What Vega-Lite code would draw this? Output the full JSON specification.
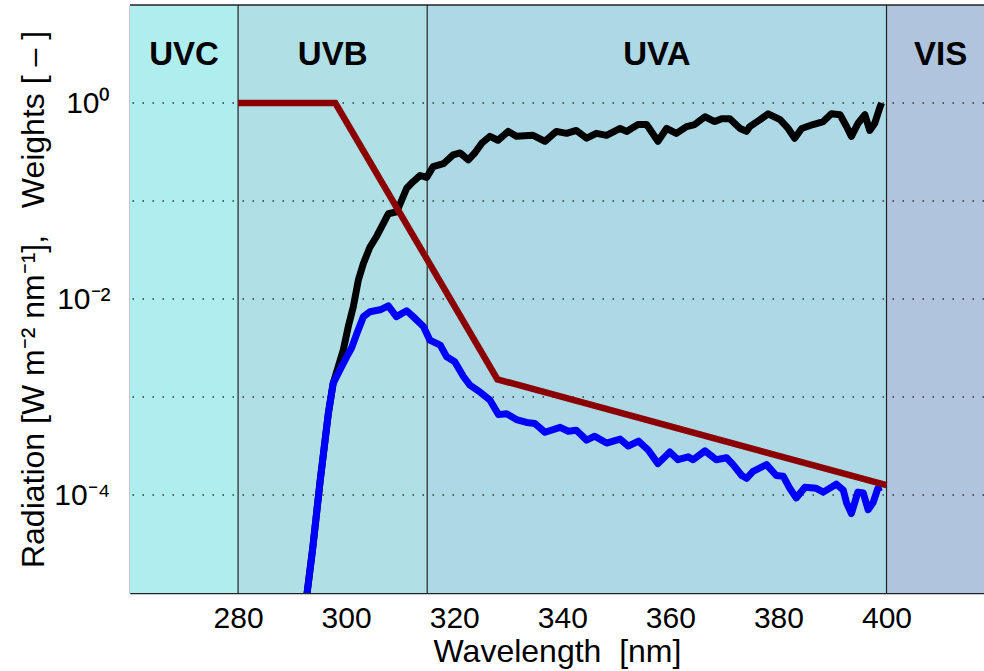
{
  "$schema": "https://vega.github.io/schema/vega-lite/v6.json",
  "autosize": "none",
  "width": 854,
  "height": 588,
  "padding": {"left": 130, "top": 5, "right": 0, "bottom": 78},
  "background": "white",
  "view": {"stroke": null},
  "config": {
    "font": "Liberation Sans",
    "axis": {"labelFont": "Liberation Sans", "titleFont": "Liberation Sans", "labelColor": "black", "titleColor": "black", "domainColor": "#222", "domainWidth": 1.5, "grid": false, "ticks": false, "labelFontSize": 30, "titleFontSize": 32, "titleFontWeight": "normal"}
  },
  "datasets": {
    "bands": [
      {"band": "UVC", "start": 260, "end": 280, "mid": 270},
      {"band": "UVB", "start": 280, "end": 315, "mid": 297.5},
      {"band": "UVA", "start": 315, "end": 400, "mid": 357.5},
      {"band": "VIS", "start": 400, "end": 420, "mid": 410}
    ],
    "bounds": [{"wl": 280}, {"wl": 315}, {"wl": 400}],
    "decades": [{"v": 1}, {"v": 0.1}, {"v": 0.01}, {"v": 0.001}, {"v": 0.0001}],
    "irr": [
      {"wl": 292.5, "v": 7.59e-6}, {"wl": 293.8, "v": 2.82e-5}, {"wl": 295.2, "v": 1.41e-4}, {"wl": 296.7, "v": 6.76e-4},
      {"wl": 297.6, "v": 1.38e-3}, {"wl": 299.47, "v": 3.02e-3}, {"wl": 300.4, "v": 5.25e-3}, {"wl": 301.32, "v": 8.32e-3},
      {"wl": 302.25, "v": 1.55e-2}, {"wl": 303.17, "v": 2.29e-2}, {"wl": 304.41, "v": 3.39e-2}, {"wl": 305.65, "v": 4.37e-2},
      {"wl": 306.87, "v": 5.89e-2}, {"wl": 307.8, "v": 7.41e-2}, {"wl": 309.35, "v": 7.76e-2}, {"wl": 310.28, "v": 0.102},
      {"wl": 311.2, "v": 0.135}, {"wl": 312.42, "v": 0.158}, {"wl": 313.7, "v": 0.182}, {"wl": 314.9, "v": 0.174},
      {"wl": 316.1, "v": 0.224}, {"wl": 318.0, "v": 0.24}, {"wl": 319.8, "v": 0.295}, {"wl": 321.1, "v": 0.309},
      {"wl": 322.6, "v": 0.263}, {"wl": 323.8, "v": 0.309}, {"wl": 325.1, "v": 0.389}, {"wl": 326.6, "v": 0.457},
      {"wl": 328.1, "v": 0.417}, {"wl": 330.0, "v": 0.513}, {"wl": 331.5, "v": 0.457}, {"wl": 334.6, "v": 0.468},
      {"wl": 336.8, "v": 0.407}, {"wl": 338.9, "v": 0.513}, {"wl": 340.8, "v": 0.49}, {"wl": 342.6, "v": 0.525},
      {"wl": 344.5, "v": 0.437}, {"wl": 346.3, "v": 0.49}, {"wl": 348.2, "v": 0.468}, {"wl": 350.7, "v": 0.55},
      {"wl": 351.9, "v": 0.513}, {"wl": 354.0, "v": 0.603}, {"wl": 355.6, "v": 0.603}, {"wl": 357.7, "v": 0.407},
      {"wl": 359.3, "v": 0.55}, {"wl": 361.1, "v": 0.49}, {"wl": 363.0, "v": 0.575}, {"wl": 364.5, "v": 0.603},
      {"wl": 366.4, "v": 0.724}, {"wl": 368.2, "v": 0.646}, {"wl": 369.5, "v": 0.692}, {"wl": 371.0, "v": 0.692},
      {"wl": 372.9, "v": 0.55}, {"wl": 374.1, "v": 0.513}, {"wl": 374.7, "v": 0.575}, {"wl": 376.6, "v": 0.676},
      {"wl": 378.1, "v": 0.776}, {"wl": 380.3, "v": 0.676}, {"wl": 381.8, "v": 0.55}, {"wl": 383.0, "v": 0.437},
      {"wl": 384.3, "v": 0.55}, {"wl": 386.4, "v": 0.603}, {"wl": 388.3, "v": 0.646}, {"wl": 389.8, "v": 0.776},
      {"wl": 391.4, "v": 0.759}, {"wl": 392.6, "v": 0.575}, {"wl": 393.5, "v": 0.457}, {"wl": 394.7, "v": 0.617},
      {"wl": 396.0, "v": 0.759}, {"wl": 396.9, "v": 0.525}, {"wl": 397.8, "v": 0.617}, {"wl": 398.8, "v": 0.912},
      {"wl": 399.1, "v": 1.0}
    ],
    "ery": [
      {"wl": 292.5, "v": 7.59e-6}, {"wl": 293.8, "v": 2.82e-5}, {"wl": 295.2, "v": 1.41e-4}, {"wl": 296.7, "v": 6.76e-4},
      {"wl": 297.6, "v": 1.38e-3}, {"wl": 298.9, "v": 1.91e-3}, {"wl": 300.1, "v": 2.57e-3}, {"wl": 301.0, "v": 3.16e-3},
      {"wl": 302.0, "v": 4.47e-3}, {"wl": 303.2, "v": 6.61e-3}, {"wl": 304.4, "v": 7.41e-3}, {"wl": 306.3, "v": 7.76e-3},
      {"wl": 307.8, "v": 8.51e-3}, {"wl": 309.3, "v": 6.61e-3}, {"wl": 311.2, "v": 7.59e-3}, {"wl": 312.4, "v": 6.61e-3},
      {"wl": 314.3, "v": 5.25e-3}, {"wl": 315.5, "v": 3.8e-3}, {"wl": 317.4, "v": 3.39e-3}, {"wl": 318.6, "v": 2.57e-3},
      {"wl": 320.1, "v": 2.29e-3}, {"wl": 321.7, "v": 1.62e-3}, {"wl": 322.9, "v": 1.32e-3}, {"wl": 324.8, "v": 1.12e-3},
      {"wl": 326.6, "v": 9.33e-4}, {"wl": 328.2, "v": 6.61e-4}, {"wl": 329.7, "v": 6.76e-4}, {"wl": 331.5, "v": 5.89e-4},
      {"wl": 333.4, "v": 5.5e-4}, {"wl": 334.9, "v": 5.37e-4}, {"wl": 336.8, "v": 4.37e-4}, {"wl": 339.6, "v": 4.9e-4},
      {"wl": 341.1, "v": 4.47e-4}, {"wl": 342.6, "v": 4.57e-4}, {"wl": 344.5, "v": 3.63e-4}, {"wl": 346.0, "v": 3.98e-4},
      {"wl": 348.2, "v": 3.39e-4}, {"wl": 350.7, "v": 3.72e-4}, {"wl": 352.2, "v": 3.16e-4}, {"wl": 354.1, "v": 3.55e-4},
      {"wl": 355.9, "v": 2.88e-4}, {"wl": 357.7, "v": 2.09e-4}, {"wl": 359.9, "v": 2.75e-4}, {"wl": 361.4, "v": 2.29e-4},
      {"wl": 363.3, "v": 2.45e-4}, {"wl": 364.2, "v": 2.29e-4}, {"wl": 366.4, "v": 2.82e-4}, {"wl": 368.5, "v": 2.29e-4},
      {"wl": 370.4, "v": 2.4e-4}, {"wl": 371.6, "v": 2.04e-4}, {"wl": 373.2, "v": 1.58e-4}, {"wl": 374.1, "v": 1.48e-4},
      {"wl": 375.3, "v": 1.74e-4}, {"wl": 377.8, "v": 2.04e-4}, {"wl": 379.6, "v": 1.58e-4}, {"wl": 380.9, "v": 1.55e-4},
      {"wl": 382.1, "v": 1.17e-4}, {"wl": 383.3, "v": 9.33e-5}, {"wl": 384.9, "v": 1.2e-4}, {"wl": 387.0, "v": 1.17e-4},
      {"wl": 388.3, "v": 1.07e-4}, {"wl": 390.7, "v": 1.29e-4}, {"wl": 392.0, "v": 1.12e-4}, {"wl": 392.6, "v": 8.32e-5},
      {"wl": 393.5, "v": 6.46e-5}, {"wl": 394.7, "v": 1.07e-4}, {"wl": 395.7, "v": 1.05e-4}, {"wl": 396.6, "v": 7.08e-5},
      {"wl": 397.5, "v": 8.32e-5}, {"wl": 398.4, "v": 1.17e-4}, {"wl": 399.1, "v": 1.2e-4}
    ],
    "weights": [
      {"wl": 280, "v": 1}, {"wl": 298, "v": 1}, {"wl": 328, "v": 1.514e-3}, {"wl": 400, "v": 1.259e-4}
    ]
  },
  "layer": [
    {
      "data": {"name": "bands"},
      "mark": {"type": "rect", "clip": true},
      "encoding": {
        "x": {"field": "start", "type": "quantitative", "scale": {"domain": [260, 418.04], "nice": false, "zero": false}, "title": "Wavelength\u00a0\u00a0[nm]",
              "axis": {"values": [280, 300, 320, 340, 360, 380, 400], "labelPadding": 10, "titlePadding": 3, "labelFlush": false}},
        "x2": {"field": "end"},
        "color": {"field": "band", "type": "nominal", "legend": null,
                  "scale": {"domain": ["UVC", "UVB", "UVA", "VIS"], "range": ["#afeeee", "#b0e0e6", "#add8e6", "#b0c4de"]}}
      }
    },
    {
      "data": {"name": "decades"},
      "mark": {"type": "rule", "color": "#333", "strokeWidth": 1.3, "strokeDash": [1.5, 8.5]},
      "encoding": {
        "y": {"field": "v", "type": "quantitative", "scale": {"type": "log", "domain": [0.00001, 10], "nice": false}, "title": "Radiation [W m⁻² nm⁻¹],\u00a0\u00a0\u00a0Weights [ – ]",
              "axis": {"values": [1, 0.01, 0.0001], "labelPadding": 20, "titlePadding": 3,
                       "labelExpr": "round(log(datum.value)/LN10) == 0 ? '10⁰' : round(log(datum.value)/LN10) == -2 ? '10⁻²' : '10⁻⁴'"}}
      }
    },
    {
      "data": {"name": "bounds"},
      "mark": {"type": "rule", "color": "#222", "strokeWidth": 1.2},
      "encoding": {
        "x": {"field": "wl", "type": "quantitative", "title": "Wavelength\u00a0\u00a0[nm]"}
      }
    },
    {
      "data": {"name": "bands"},
      "mark": {"type": "text", "fontSize": 33, "fontWeight": "bold", "color": "black", "baseline": "middle", "align": "center"},
      "encoding": {
        "x": {"field": "mid", "type": "quantitative", "title": "Wavelength\u00a0\u00a0[nm]"},
        "y": {"datum": 3.1, "type": "quantitative", "title": "Radiation [W m⁻² nm⁻¹],\u00a0\u00a0\u00a0Weights [ – ]"},
        "text": {"field": "band"}
      }
    },
    {
      "data": {"name": "irr"},
      "mark": {"type": "line", "color": "black", "strokeWidth": 7, "clip": true, "strokeJoin": "round"},
      "encoding": {
        "x": {"field": "wl", "type": "quantitative", "title": "Wavelength\u00a0\u00a0[nm]"},
        "y": {"field": "v", "type": "quantitative", "title": "Radiation [W m⁻² nm⁻¹],\u00a0\u00a0\u00a0Weights [ – ]"}
      }
    },
    {
      "data": {"name": "ery"},
      "mark": {"type": "line", "color": "#0000ff", "strokeWidth": 7, "clip": true, "strokeJoin": "round"},
      "encoding": {
        "x": {"field": "wl", "type": "quantitative", "title": "Wavelength\u00a0\u00a0[nm]"},
        "y": {"field": "v", "type": "quantitative", "title": "Radiation [W m⁻² nm⁻¹],\u00a0\u00a0\u00a0Weights [ – ]"}
      }
    },
    {
      "data": {"name": "weights"},
      "mark": {"type": "line", "color": "#8b0000", "strokeWidth": 6.5, "clip": true},
      "encoding": {
        "x": {"field": "wl", "type": "quantitative", "title": "Wavelength\u00a0\u00a0[nm]"},
        "y": {"field": "v", "type": "quantitative", "title": "Radiation [W m⁻² nm⁻¹],\u00a0\u00a0\u00a0Weights [ – ]"}
      }
    },
    {
      "data": {"values": [{"top": 10}]},
      "mark": {"type": "rule", "color": "#222", "strokeWidth": 1.5},
      "encoding": {
        "y": {"field": "top", "type": "quantitative", "title": "Radiation [W m⁻² nm⁻¹],\u00a0\u00a0\u00a0Weights [ – ]"}
      }
    }
  ]
}
